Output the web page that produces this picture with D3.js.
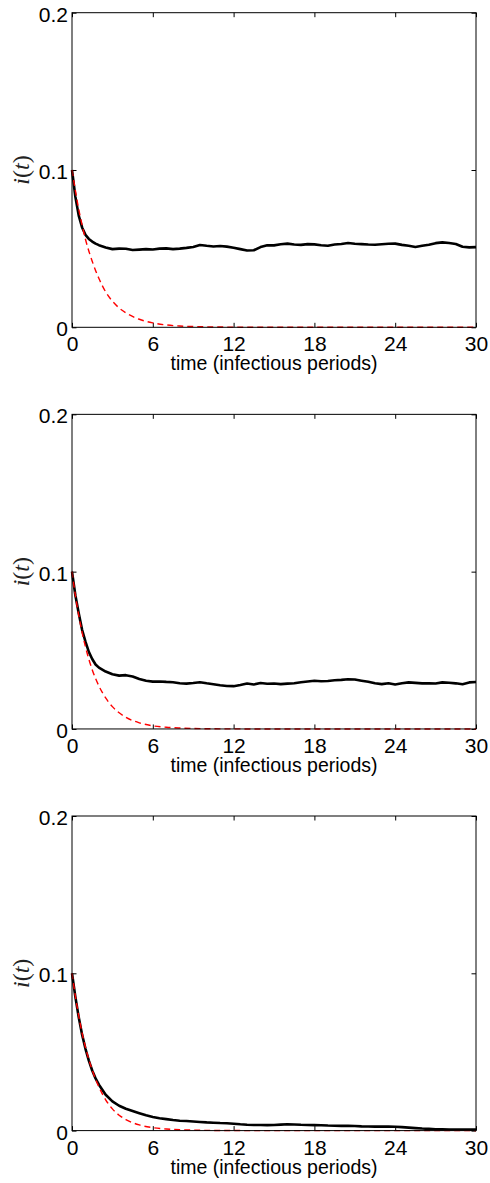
<!DOCTYPE html>
<html>
<head>
<meta charset="utf-8">
<script src="https://cdn.jsdelivr.net/npm/d3@7"></script>
<style>
  body { margin: 0; background: #fff; }
  .tick text { font-family: "Liberation Sans", Arial, sans-serif; }
</style>
</head>
<body>
<div class="chart-container"></div>
<script>
// time grid of the simulated (black) curves
const blackTimes = [0, 0.25, 0.5, 0.75, 1, 1.25, 1.5, 1.75, 2,
    2.5, 3, 3.5, 4, 4.5, 5, 5.5, 6,
    6.5, 7, 7.5, 8, 8.5, 9, 9.5, 10,
    10.5, 11, 11.5, 12, 12.5, 13, 13.5, 14,
    14.5, 15, 15.5, 16, 16.5, 17, 17.5, 18,
    18.5, 19, 19.5, 20, 20.5, 21, 21.5, 22,
    22.5, 23, 23.5, 24, 24.5, 25, 25.5, 26,
    26.5, 27, 27.5, 28, 28.5, 29, 29.5, 30];

const black1 = [0.1, 0.083, 0.071, 0.0635, 0.0588, 0.0562, 0.0545, 0.0532, 0.0522,
    0.0508, 0.0497, 0.0500, 0.0499, 0.0491, 0.0494, 0.0497, 0.0495,
    0.0500, 0.0502, 0.0497, 0.0500, 0.0505, 0.0511, 0.0523, 0.0518,
    0.0514, 0.0517, 0.0513, 0.0506, 0.0497, 0.0488, 0.0490, 0.0510,
    0.0522, 0.0521, 0.0528, 0.0532, 0.0526, 0.0524, 0.0529, 0.0527,
    0.0522, 0.0518, 0.0526, 0.0530, 0.0536, 0.0531, 0.0529, 0.0526,
    0.0525, 0.0528, 0.0531, 0.0532, 0.0524, 0.0518, 0.0511, 0.0518,
    0.0525, 0.0535, 0.0540, 0.0536, 0.0530, 0.0512, 0.0508, 0.0510];

const black2 = [0.1, 0.085, 0.0735, 0.063, 0.0555, 0.049, 0.0445, 0.041, 0.039,
    0.0365, 0.0348, 0.0339, 0.0342, 0.0334, 0.0318, 0.0306, 0.0301,
    0.0302, 0.0299, 0.0297, 0.0291, 0.0288, 0.0292, 0.0297, 0.0290,
    0.0284, 0.0278, 0.0273, 0.0272, 0.0280, 0.0289, 0.0283, 0.0292,
    0.0287, 0.0289, 0.0285, 0.0288, 0.0291, 0.0297, 0.0302, 0.0306,
    0.0303, 0.0305, 0.0310, 0.0312, 0.0316, 0.0314, 0.0307, 0.0300,
    0.0290, 0.0285, 0.0291, 0.0283, 0.0291, 0.0296, 0.0293, 0.0290,
    0.0291, 0.0289, 0.0296, 0.0294, 0.0290, 0.0284, 0.0296, 0.0298];

const black3 = [0.1, 0.085, 0.072, 0.061, 0.052, 0.0445, 0.0382, 0.0332, 0.0292,
    0.0228, 0.0186, 0.0158, 0.0139, 0.0124, 0.0110, 0.0097, 0.0087,
    0.0079, 0.0073, 0.0067, 0.0063, 0.0061, 0.0058, 0.0055, 0.0052,
    0.0050, 0.0048, 0.0047, 0.0044, 0.0040, 0.0037, 0.0036, 0.0036,
    0.0035, 0.0036, 0.0038, 0.0040, 0.0039, 0.0037, 0.0036, 0.0035,
    0.0034, 0.0032, 0.0031, 0.0030, 0.0030, 0.0029, 0.0027, 0.0026,
    0.0025, 0.0025, 0.0025, 0.0024, 0.0022, 0.0019, 0.0016, 0.0013,
    0.0011, 0.0009, 0.0008, 0.0007, 0.0007, 0.0007, 0.0006, 0.0006];

// time grid of the dashed (red) curves
const redTimes = [0, 0.25, 0.5, 0.75, 1, 1.5, 2, 2.5, 3, 3.5, 4, 5, 6, 7, 8, 9, 10, 12, 14, 16, 20, 25, 30];
const red1 = [0.1, 0.087, 0.075, 0.065, 0.056, 0.042, 0.031, 0.0225, 0.0166, 0.0123, 0.0092, 0.0051, 0.0028, 0.0015, 0.0008, 0.0005, 0.0003, 0.0001, 0, 0, 0, 0, 0];
const red2 = [0.1, 0.085, 0.0723, 0.0614, 0.0522, 0.0377, 0.0273, 0.0197, 0.0142, 0.0103, 0.0074, 0.0039, 0.002, 0.0011, 0.0006, 0.0003, 0.00015, 0.00004, 0, 0, 0, 0, 0];
const red3 = [0.1, 0.0855, 0.073, 0.062, 0.053, 0.0385, 0.0278, 0.0196, 0.0138, 0.0098, 0.007, 0.0036, 0.0019, 0.001, 0.0005, 0.0003, 0.00015, 0.00004, 0, 0, 0, 0, 0];

const xTicks = [0, 6, 12, 18, 24, 30];
const yTicks = [0, 0.1, 0.2];
const yTickLabels = ["0", "0.1", "0.2"];

const panels = [
    { black: black1, red: red1 },
    { black: black2, red: red2 },
    { black: black3, red: red3 }
];

const svg = d3.select(".chart-container").append("svg")
    .attr("width", 490)
    .attr("height", 1183);

const margin = { left: 72, top: 12.7 },
      width = 404,
      height = 314.6,
      step = 401.65;

const x = d3.scaleLinear().domain([0, 30]).range([0, width]);
const y = d3.scaleLinear().domain([0, 0.2]).range([height, 0]);

panels.forEach((p, i) => drawPanel(p, margin.top + i * step));

function drawPanel(p, top) {
    const g = svg.append("g")
        .attr("transform", "translate(" + margin.left + "," + top + ")");

    // inward ticks on all four sides
    const bottom = g.append("g")
        .attr("transform", "translate(0," + height + ")")
        .call(d3.axisBottom(x).tickValues(xTicks).tickSize(-4.5).tickSizeOuter(0).tickPadding(9));
    g.append("g")
        .call(d3.axisTop(x).tickValues(xTicks).tickSize(-4.5).tickSizeOuter(0).tickFormat(""));
    const left = g.append("g")
        .call(d3.axisLeft(y).tickValues(yTicks).tickSize(-4.5).tickSizeOuter(0).tickPadding(4)
            .tickFormat((d, j) => yTickLabels[j]));
    g.append("g")
        .attr("transform", "translate(" + width + ",0)")
        .call(d3.axisRight(y).tickValues(yTicks).tickSize(-4.5).tickSizeOuter(0).tickFormat(""));

    g.selectAll(".domain").remove();
    g.selectAll(".tick line").attr("stroke", "#000").attr("stroke-width", 1);
    bottom.selectAll("text").attr("font-size", 21).attr("fill", "#000");
    left.selectAll("text").attr("font-size", 21).attr("fill", "#000").attr("dy", "0.4em");

    const lineBlack = d3.line()
        .x((d, j) => x(blackTimes[j]))
        .y(d => y(d));

    const lineRed = d3.line()
        .x((d, j) => x(redTimes[j]))
        .y(d => y(d))
        .curve(d3.curveMonotoneX);

    g.append("path")
        .datum(p.black)
        .attr("d", lineBlack)
        .attr("fill", "none")
        .attr("stroke", "#000")
        .attr("stroke-width", 2.6)
        .attr("stroke-linejoin", "round");

    g.append("path")
        .datum(p.red)
        .attr("d", lineRed)
        .attr("fill", "none")
        .attr("stroke", "#ff0000")
        .attr("stroke-width", 1.4)
        .attr("stroke-dasharray", "6,4");

    // plot frame
    g.append("rect")
        .attr("width", width)
        .attr("height", height)
        .attr("fill", "none")
        .attr("stroke", "#000")
        .attr("stroke-width", 1);

    g.append("text")
        .attr("x", width / 2)
        .attr("y", height + 43)
        .attr("text-anchor", "middle")
        .attr("font-family", "Liberation Sans, Arial, sans-serif")
        .attr("font-size", 19.5)
        .text("time (infectious periods)");

    const yl = g.append("text")
        .attr("transform", "translate(-43," + (height / 2) + ") rotate(-90)")
        .attr("text-anchor", "middle")
        .attr("font-family", "Liberation Serif, serif")
        .attr("font-size", 24)
        .attr("fill", "#222");
    yl.append("tspan").attr("font-style", "italic").text("i");
    yl.append("tspan").text("(");
    yl.append("tspan").attr("font-style", "italic").text("t");
    yl.append("tspan").text(")");
}
</script>
</body>
</html>
